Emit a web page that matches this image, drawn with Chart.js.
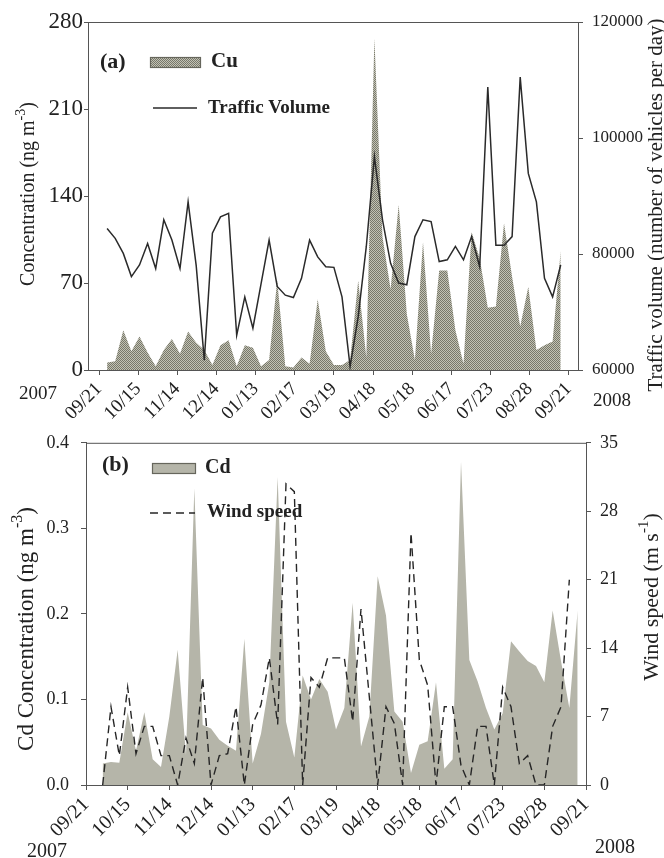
<!DOCTYPE html>
<html>
<head>
<meta charset="utf-8">
<script src="https://cdn.jsdelivr.net/npm/chart.js@4.4.1/dist/chart.umd.min.js"></script>
<style>
  html, body { margin: 0; padding: 0; background: #fff; }
  canvas { position: absolute; left: 0; }
  #cuChart { top: 0; }
  #cdChart { top: 420px; }
</style>
</head>
<body>
<canvas id="cuChart" width="664" height="420"></canvas>
<canvas id="cdChart" width="664" height="438"></canvas>
<script>
const dateLabels = ["09/21", "10/15", "11/14", "12/14", "01/13", "02/17", "03/19",
                    "04/18", "05/18", "06/17", "07/23", "08/28", "09/21"];

// panel (a): samples 1..57
const cuConc = [6, 7, 32, 15, 27, 14, 3, 16, 25, 13, 31, 22, 16, 4, 20, 24, 3, 20, 18, 3,
                8, 72, 3, 2, 10, 5, 57, 15, 4, 4, 8, 72, 10, 267, 107, 65, 133, 45, 8, 103,
                13, 80, 80, 32, 5, 111, 90, 50, 51, 118, 75, 35, 67, 16, 20, 23, 96];
const trafficVolume = [84400, 82700, 80100, 76100, 78100, 81800, 77500, 85900, 82400, 77500,
                       89000, 78000, 61700, 83600, 86400, 87000, 66000, 72600, 67200, 74800,
                       82400, 74400, 72900, 72500, 75800, 82400, 79500, 77800, 77700, 72600,
                       60600, 69200, 81300, 96800, 85900, 78400, 75000, 74700, 83000, 85900,
                       85600, 78700, 79000, 81300, 79000, 83000, 77800, 108800, 81500, 81500,
                       83000, 110500, 93900, 89000, 75800, 72600, 78100];

// panel (b): Cd samples 2..59, wind samples 2..58
const cdConc = [0.025, 0.027, 0.026, 0.085, 0.04, 0.085, 0.03, 0.021, 0.08, 0.158,
                0.035, 0.347, 0.07, 0.066, 0.053, 0.046, 0.04, 0.171, 0.025, 0.06,
                0.12, 0.36, 0.074, 0.032, 0.128, 0.10, 0.124, 0.109, 0.065, 0.09,
                0.213, 0.045, 0.08, 0.244, 0.198, 0.086, 0.074, 0.014, 0.047, 0.051,
                0.12, 0.019, 0.03, 0.378, 0.146, 0.121, 0.09, 0.065, 0.084, 0.168,
                0.156, 0.145, 0.139, 0.12, 0.204, 0.145, 0.09, 0.204];
const windSpeed = [0, 8, 3, 10, 3.2, 6, 6, 3, 3, 0, 4.8, 2.2, 11, 0, 3, 3.2, 8, 0, 6.2, 8.2,
                   13, 6.2, 30.8, 30, 0, 11, 10, 13, 13, 13, 6.5, 18, 9, 0, 8, 6.3, 0, 25.8, 12.8, 10.2,
                   0, 8, 8, 2, 0, 6, 6, 0, 10, 8, 2.2, 3, 0, 0, 6, 8, 21];

const FONT = '"Liberation Serif", "Times New Roman", serif';
const AXIS = '#555';
const INK = '#222';

const pts = (arr, first) => arr.map((v, i) => ({ x: first + i, y: v }));

// dotted fill used for Cu
function dotPattern() {
  const c = document.createElement('canvas');
  c.width = 2; c.height = 2;
  const g = c.getContext('2d');
  g.fillStyle = '#c2c2b4'; g.fillRect(0, 0, 2, 2);
  g.fillStyle = '#77776a'; g.fillRect(0, 0, 1, 1); g.fillRect(1, 1, 1, 1);
  return g.createPattern(c, 'repeat');
}
const cuFill = dotPattern();
const cdFill = '#b5b5a9';

function drawRich(ctx, it) {
  const size = it.size, weight = it.weight || '';
  ctx.save();
  ctx.translate(it.x, it.y);
  ctx.rotate(it.rot || 0);
  const base = weight + ' ' + size + 'px ' + FONT;
  const small = weight + ' ' + Math.round(size * 0.68) + 'px ' + FONT;
  let w = 0;
  it.parts.forEach(p => { ctx.font = p.sup ? small : base; w += ctx.measureText(p.t).width; });
  let x = it.align === 'left' ? 0 : -w / 2;
  ctx.textAlign = 'left';
  ctx.textBaseline = 'middle';
  ctx.fillStyle = INK;
  it.parts.forEach(p => {
    ctx.font = p.sup ? small : base;
    ctx.fillText(p.t, x, p.sup ? -size * 0.38 : 0);
    x += ctx.measureText(p.t).width;
  });
  ctx.restore();
}

// frame, axis titles, year labels and the in-plot legend
const decor = {
  id: 'decor',
  afterDraw(chart, args, o) {
    const { ctx, chartArea: a } = chart;
    ctx.save();
    ctx.strokeStyle = AXIS;
    ctx.lineWidth = 1;
    ctx.strokeRect(a.left + 0.5, a.top + 0.5, a.right - a.left, a.bottom - a.top);
    (o.items || []).forEach(it => {
      if (it.kind === 'text') {
        drawRich(ctx, it);
      } else if (it.kind === 'box') {
        ctx.fillStyle = it.fill;
        ctx.fillRect(it.x, it.y, it.w, it.h);
        ctx.strokeStyle = '#66665c';
        ctx.lineWidth = 1.2;
        ctx.strokeRect(it.x + 0.5, it.y + 0.5, it.w, it.h);
      } else if (it.kind === 'line') {
        ctx.strokeStyle = it.color;
        ctx.lineWidth = it.width;
        ctx.setLineDash(it.dash || []);
        ctx.beginPath();
        ctx.moveTo(it.x1, it.y);
        ctx.lineTo(it.x2, it.y);
        ctx.stroke();
        ctx.setLineDash([]);
      }
    });
    ctx.restore();
  }
};

const font = (size) => ({ family: FONT, size: size });
const gridOut = (len) => ({ display: true, drawOnChartArea: false, drawTicks: true, tickLength: len, color: AXIS, lineWidth: 1 });
const border = { display: true, color: AXIS, width: 1 };
const fixW = (w) => (s) => { s.width = w; };
const fixH = (h) => (s) => { s.height = h; };

// ---------- panel (a) ----------
const topSpan = 58;  // sample steps between the first and last tick
new Chart(document.getElementById('cuChart'), {
  type: 'line',
  data: {
    datasets: [
      { label: 'Traffic Volume', data: pts(trafficVolume, 1), yAxisID: 'y1', borderColor: '#2a2a2a',
        borderWidth: 1.5, pointRadius: 0, tension: 0, fill: false, order: 0 },
      { label: 'Cu', data: pts(cuConc, 1), yAxisID: 'y', backgroundColor: cuFill, borderWidth: 0,
        borderColor: 'rgba(0,0,0,0)', pointRadius: 0, tension: 0, fill: 'origin', order: 1 }
    ]
  },
  options: {
    responsive: false,
    animation: false,
    layout: { padding: { top: 22, left: 0, right: 0, bottom: 0 } },
    plugins: {
      legend: { display: false },
      tooltip: { enabled: false },
      decor: {
        items: [
          { kind: 'text', parts: [{ t: 'Concentration (ng m' }, { t: '-3', sup: true }, { t: ')' }],
            x: 29, y: 194, rot: -Math.PI / 2, size: 20 },
          { kind: 'text', parts: [{ t: 'Traffic volume (number of vehicles per day)' }],
            x: 656, y: 205, rot: -Math.PI / 2, size: 21 },
          { kind: 'text', parts: [{ t: '2007' }], x: 38, y: 394, size: 19 },
          { kind: 'text', parts: [{ t: '2008' }], x: 612, y: 401, size: 19 },
          { kind: 'text', parts: [{ t: '(a)' }], x: 100, y: 62, size: 22, weight: 'bold', align: 'left' },
          { kind: 'box', x: 150, y: 57, w: 50, h: 10, fill: cuFill },
          { kind: 'text', parts: [{ t: 'Cu' }], x: 211, y: 62, size: 21, weight: 'bold', align: 'left' },
          { kind: 'line', x1: 153, x2: 197, y: 108, color: '#2a2a2a', width: 1.5 },
          { kind: 'text', parts: [{ t: 'Traffic Volume' }], x: 208, y: 108, size: 19, weight: 'bold', align: 'left' }
        ]
      }
    },
    scales: {
      x: {
        type: 'linear',
        min: -11 / 8.1, max: 479 / 8.1,
        afterBuildTicks: (s) => { s.ticks = dateLabels.map((_, k) => ({ value: k * topSpan / 12 })); },
        afterFit: fixH(50),
        grid: gridOut(5), border: border,
        ticks: { autoSkip: false, minRotation: 45, maxRotation: 45, padding: 3, color: INK, font: font(19),
                 callback: (v, i) => dateLabels[i] }
      },
      y: {
        position: 'left', min: 0, max: 280,
        afterFit: fixW(88),
        grid: gridOut(4), border: border,
        ticks: { stepSize: 70, padding: 1, color: INK, font: font(23) }
      },
      y1: {
        position: 'right', min: 60000, max: 120000,
        afterFit: fixW(86),
        grid: gridOut(5), border: border,
        ticks: { stepSize: 20000, padding: 9, color: INK, font: font(17), callback: (v) => String(v) }
      }
    }
  },
  plugins: [decor]
});

// ---------- panel (b) ----------
new Chart(document.getElementById('cdChart'), {
  type: 'line',
  data: {
    datasets: [
      { label: 'Wind speed', data: pts(windSpeed, 2), yAxisID: 'y1', borderColor: '#262626',
        borderWidth: 1.4, borderDash: [8, 5], pointRadius: 0, tension: 0, fill: false, order: 0 },
      { label: 'Cd', data: pts(cdConc, 2), yAxisID: 'y', backgroundColor: cdFill, borderWidth: 0,
        borderColor: 'rgba(0,0,0,0)', pointRadius: 0, tension: 0, fill: 'origin', order: 1 }
    ]
  },
  options: {
    responsive: false,
    animation: false,
    layout: { padding: { top: 15, left: 0, right: 0, bottom: 0 } },
    plugins: {
      legend: { display: false },
      tooltip: { enabled: false },
      decor: {
        items: [
          { kind: 'text', parts: [{ t: 'Cd Concentration (ng m' }, { t: '-3', sup: true }, { t: ')' }],
            x: 27, y: 209, rot: -Math.PI / 2, size: 23 },
          { kind: 'text', parts: [{ t: 'Wind speed (m s' }, { t: '-1', sup: true }, { t: ')' }],
            x: 652, y: 177, rot: -Math.PI / 2, size: 22 },
          { kind: 'text', parts: [{ t: '2007' }], x: 47, y: 432, size: 20 },
          { kind: 'text', parts: [{ t: '2008' }], x: 615, y: 428, size: 20 },
          { kind: 'text', parts: [{ t: '(b)' }], x: 102, y: 45, size: 22, weight: 'bold', align: 'left' },
          { kind: 'box', x: 152, y: 43, w: 43, h: 10, fill: cdFill },
          { kind: 'text', parts: [{ t: 'Cd' }], x: 205, y: 48, size: 20, weight: 'bold', align: 'left' },
          { kind: 'line', x1: 150, x2: 195, y: 93, color: '#262626', width: 1.4, dash: [8, 5] },
          { kind: 'text', parts: [{ t: 'Wind speed' }], x: 207, y: 92, size: 19, weight: 'bold', align: 'left' }
        ]
      }
    },
    scales: {
      x: {
        type: 'linear', min: 0, max: 60,
        afterBuildTicks: (s) => { s.ticks = dateLabels.map((_, k) => ({ value: k * 5 })); },
        afterFit: fixH(73),
        grid: gridOut(5), border: border,
        ticks: { autoSkip: false, minRotation: 45, maxRotation: 45, padding: 3, color: INK, font: font(20),
                 callback: (v, i) => dateLabels[i] }
      },
      y: {
        position: 'left', min: 0, max: 0.4,
        afterFit: fixW(86),
        grid: gridOut(5), border: border,
        ticks: { stepSize: 0.1, padding: 12, color: INK, font: font(18), callback: (v) => v.toFixed(1) }
      },
      y1: {
        position: 'right', min: 0, max: 35,
        afterFit: fixW(78),
        grid: gridOut(5), border: border,
        ticks: { stepSize: 7, padding: 9, color: INK, font: font(18) }
      }
    }
  },
  plugins: [decor]
});
</script>
</body>
</html>
